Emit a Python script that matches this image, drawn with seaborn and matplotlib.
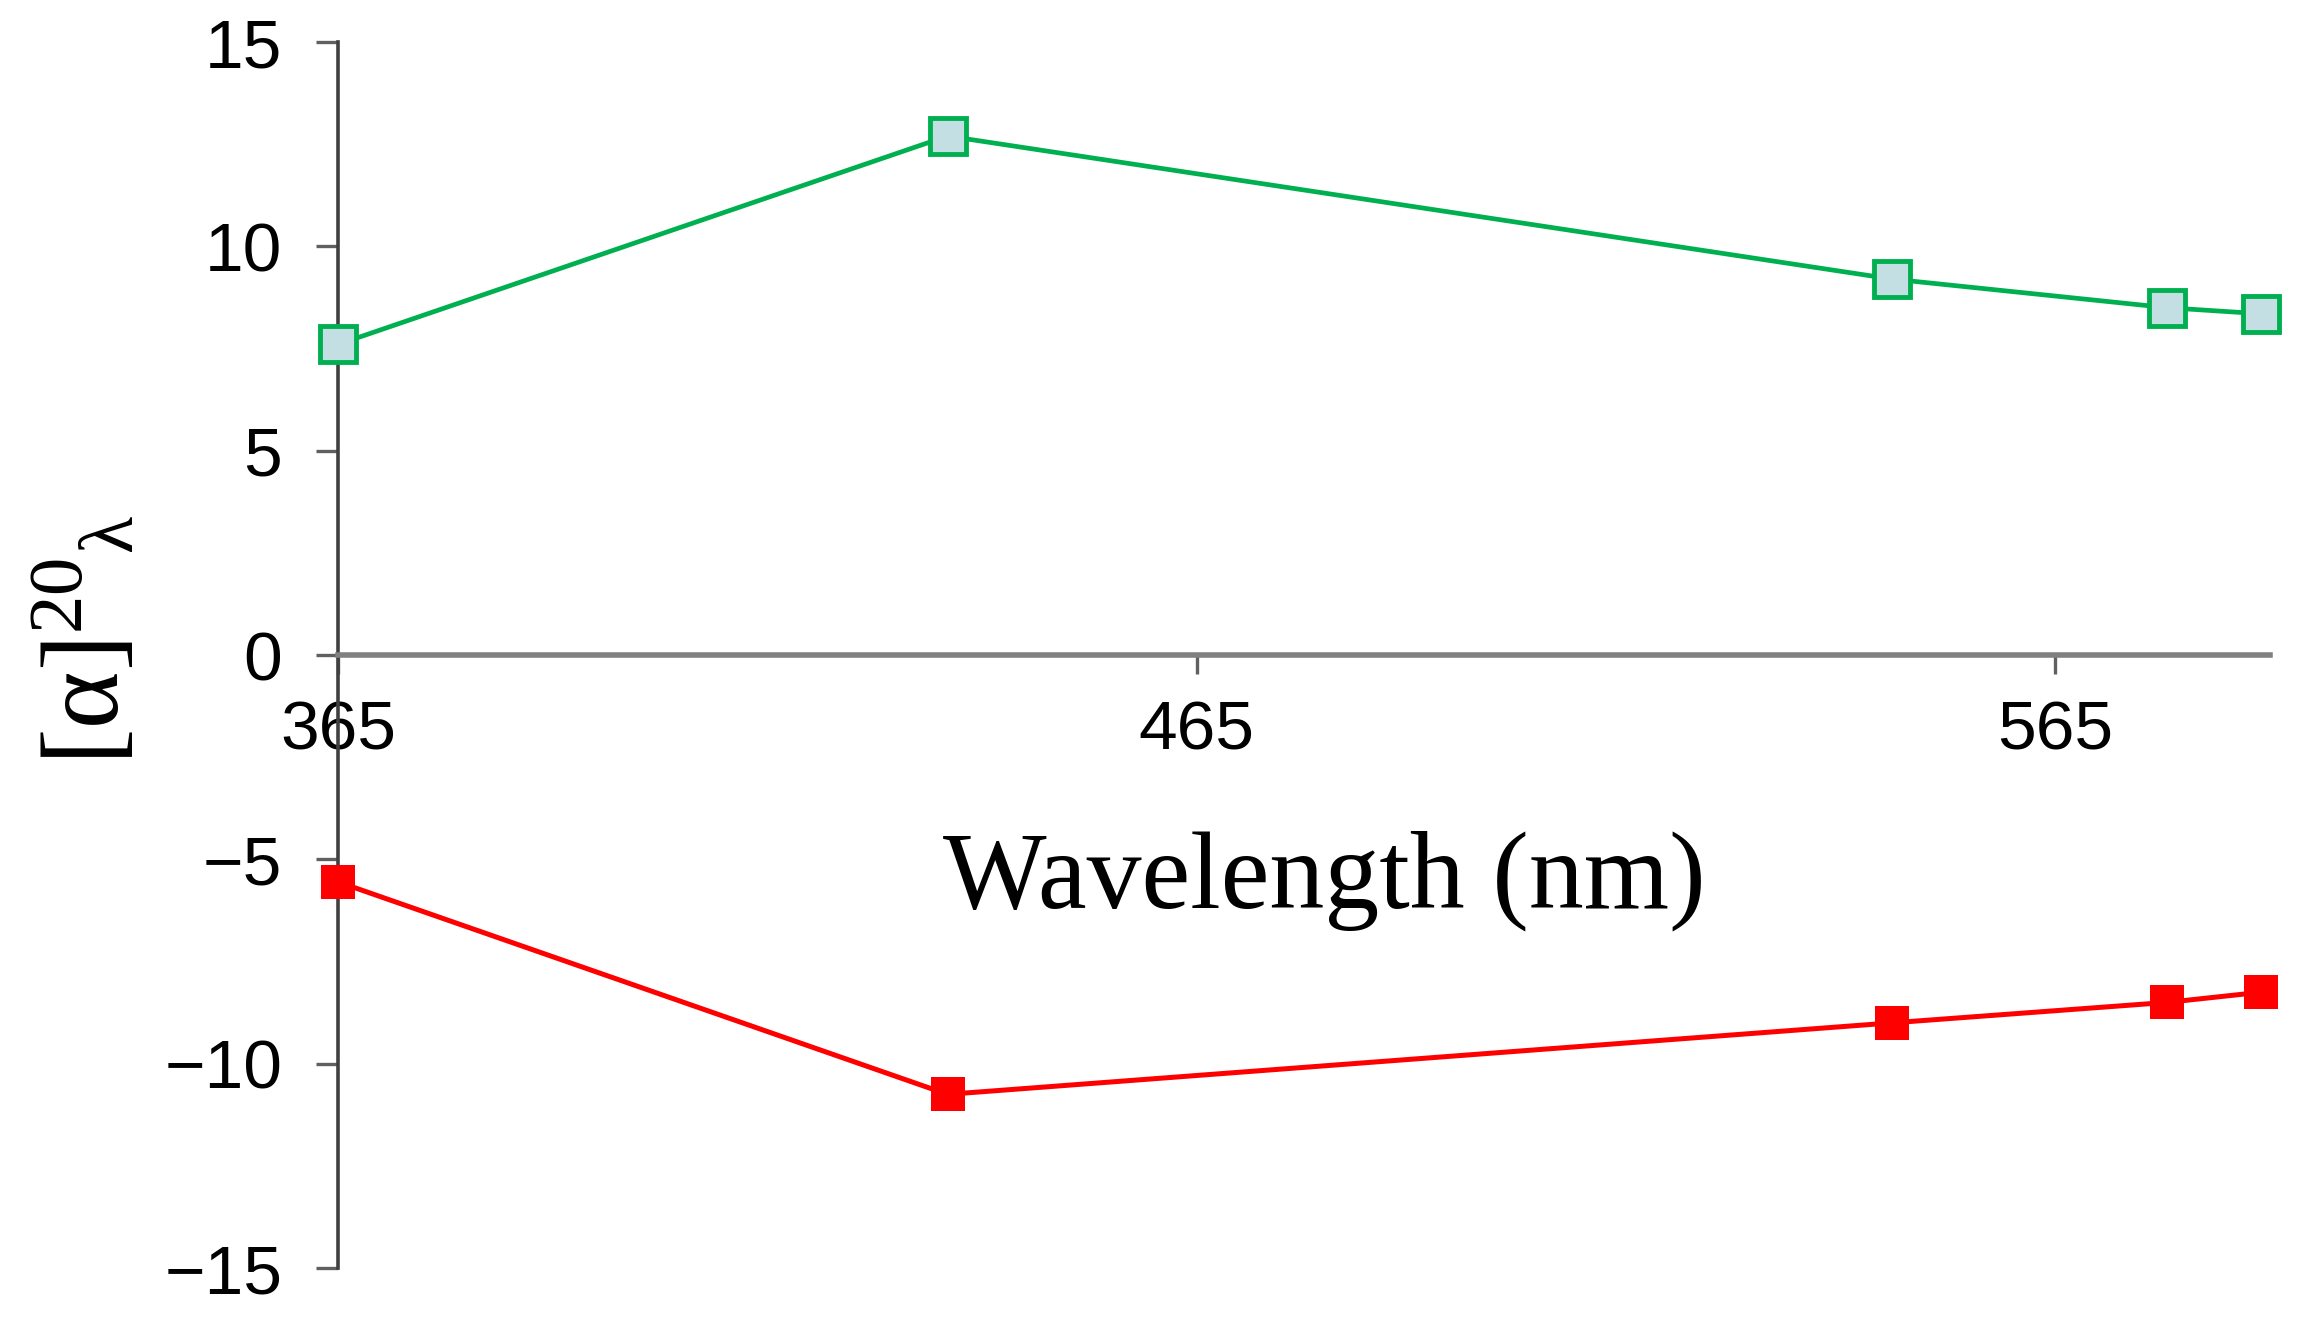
import pandas as pd
import matplotlib.pyplot as plt
import seaborn as sns

# Specific rotation vs wavelength
wavelengths = [365, 436, 546, 578, 589]
rot_positive = [7.6, 12.7, 9.2, 8.5, 8.35]
rot_negative = [-5.55, -10.75, -9.0, -8.5, -8.25]
x_ticks = [365, 465, 565]
y_ticks = [-15, -10, -5, 0, 5, 10, 15]

df_pos = pd.DataFrame({"wavelength": wavelengths, "rotation": rot_positive})
df_neg = pd.DataFrame({"wavelength": wavelengths, "rotation": rot_negative})

sns.set_style("white")
plt.rcParams["font.family"] = ["Liberation Sans", "DejaVu Sans"]
plt.rcParams["mathtext.default"] = "regular"
plt.rcParams["text.color"] = "black"
plt.rcParams["xtick.labelcolor"] = "black"
plt.rcParams["ytick.labelcolor"] = "black"

fig = plt.figure(figsize=(23.13, 13.39), dpi=100)
ax = fig.add_axes([0.1461, 0.0530, 0.8353, 0.9156])

sns.lineplot(data=df_pos, x="wavelength", y="rotation", ax=ax,
             color="#00B050", linewidth=3.4, marker="s", markersize=26,
             markerfacecolor="#C4DFE4", markeredgecolor="#00B050",
             markeredgewidth=3.5, clip_on=False, zorder=5)
sns.lineplot(data=df_neg, x="wavelength", y="rotation", ax=ax,
             color="#FF0000", linewidth=3.6, marker="s", markersize=24,
             markerfacecolor="#FF0000", markeredgewidth=0,
             clip_on=False, zorder=5)

ax.set_xlim(365, 590)
ax.set_ylim(-15, 15)
ax.set_xticks(x_ticks)
ax.set_yticks(y_ticks)
ax.set_xlabel("")
ax.set_ylabel("")

# axes cross at (365, 0)
ax.spines["left"].set_position(("data", 365))
ax.spines["bottom"].set_position(("data", 0))
ax.spines["top"].set_visible(False)
ax.spines["right"].set_visible(False)
ax.spines["left"].set_color("#404040")
ax.spines["left"].set_linewidth(2.6)
ax.spines["bottom"].set_color("#808080")
ax.spines["bottom"].set_linewidth(4)

ax.tick_params(axis="y", direction="out", length=16, width=2.4,
               color="#606060", labelsize=50, pad=24, left=True)
ax.tick_params(axis="x", direction="out", length=14, width=2.4,
               color="#606060", labelsize=50, pad=18, bottom=True)

fig.text(0.5724, 0.342, "Wavelength (nm)", family="Liberation Serif",
         fontsize=79, ha="center", va="center")
fig.text(0.038, 0.522, "[α]$^{20}{}_{λ}$", family="Liberation Serif",
         fontsize=79, ha="center", va="center", rotation=90)

plt.savefig("out.png", dpi=100)
plt.close()
